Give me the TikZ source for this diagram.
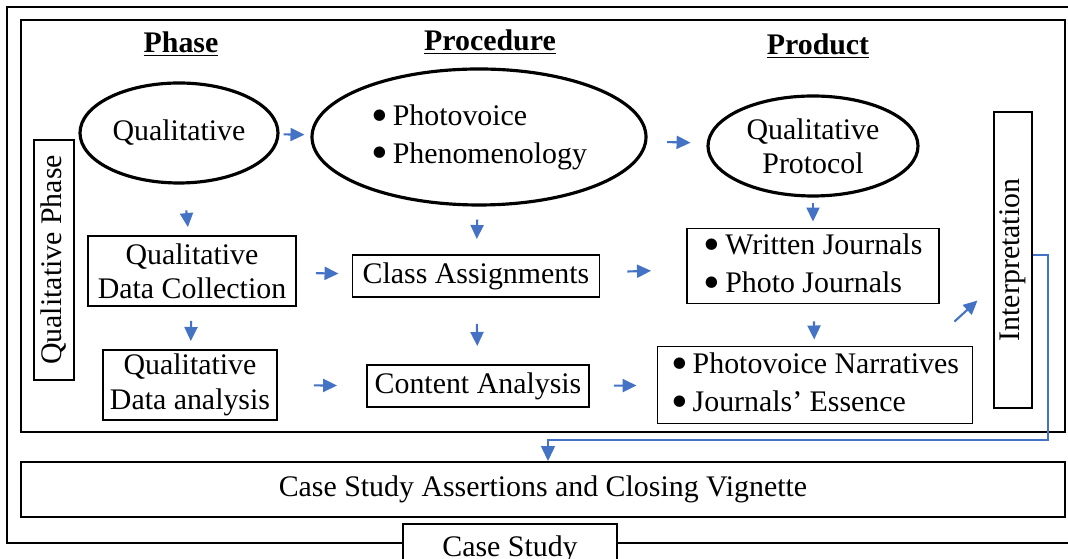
\documentclass[tikz,border=0pt]{standalone}
\usepackage{fontspec}
\setmainfont{Liberation Serif}
\usepackage{graphicx}
\usepackage{tikz}
\usetikzlibrary{arrows.meta,calc,shapes.geometric}
\definecolor{ArrowBlue}{RGB}{68,114,196}
\newcommand{\bul}{\raisebox{-0.2em}{\scalebox{1.6}{\textbullet}}\,}

\begin{document}
\begin{tikzpicture}[>=Latex,
  font=\fontsize{17}{19.5}\selectfont,
  oval/.style={ellipse,draw,line width=1.8pt,inner sep=0pt,align=center},
  box/.style={rectangle,draw,line width=1.1pt,inner sep=0pt,align=center},
  flow/.style={-{Triangle[length=2.8mm,width=2.6mm]},line width=1.2pt,ArrowBlue},
  link/.style={-{Triangle[length=3mm,width=2.8mm]},line width=0.85pt,ArrowBlue}]
  \useasboundingbox (0,0) rectangle (21.36,11.18);
  % frames
  \draw[line width=1.4pt] (0.14,0.32) rectangle (21.6,11.04);
  \draw[line width=1.4pt] (0.42,2.54) rectangle (21.30,10.78);

  % column heads
  \node (hphase) at (3.62,10.30) {\underline{\textbf{Phase}}};
  \node (hproc) at (9.80,10.34) {\underline{\textbf{Procedure}}};
  \node (hprod) at (16.36,10.26) {\underline{\textbf{Product}}};

  % first row
  \node[oval,minimum width=3.96cm,minimum height=2cm] (qual) at (3.58,8.52) {Qualitative};
  \node[oval,minimum width=6.68cm,minimum height=2.72cm,align=left] (proc) at (9.58,8.44)
    {\bul Photovoice\\[2pt]\bul Phenomenology};
  \node[oval,minimum width=4.2cm,minimum height=2cm] (prod) at (16.26,8.26) {Qualitative\\Protocol};

  % second row
  \node[box,minimum width=4.16cm,minimum height=1.4cm] (qdc) at (3.84,5.76) {Qualitative\\Data Collection};
  \node[box,minimum width=4.94cm,minimum height=0.84cm] (ca) at (9.52,5.66) {Class Assignments};
  \node[box,minimum width=5.04cm,minimum height=1.5cm,align=left] (wj) at (16.26,5.86)
    {\bul Written Journals\\[2pt]\bul Photo Journals};

  % third row
  \node[box,minimum width=3.48cm,minimum height=1.4cm] (qda) at (3.80,3.48) {Qualitative\\Data analysis};
  \node[box,minimum width=4.44cm,minimum height=0.84cm] (conta) at (9.56,3.46) {Content Analysis};
  \node[box,minimum width=6.30cm,minimum height=1.54cm,align=left] (pn) at (16.30,3.48)
    {\bul Photovoice Narratives\\[2pt]\bul Journals’ Essence};

  % side boxes
  \node[box,rotate=90,minimum width=4.8cm,minimum height=0.8cm] (qphase) at (1.08,5.98) {Qualitative Phase};
  \node[box,rotate=90,minimum width=5.92cm,minimum height=0.76cm] (interp) at (20.26,5.98) {Interpretation};

  % case study
  \node[box,minimum width=20.88cm,minimum height=1.1cm] (assert) at (10.86,1.39)
    {Case Study Assertions and Closing Vignette};
  \node[box,fill=white,anchor=north,minimum width=4.28cm,minimum height=1.0cm] (cs) at (10.2,0.72) {Case Study};

  % flow arrows
  \draw[flow,shorten <=0.08cm,shorten >=0.12cm] (qual) -- (proc);
  \draw[flow,shorten <=0.40cm,shorten >=0.32cm] (proc) -- (prod);
  \draw[flow,shorten <=0.38cm,shorten >=0.26cm] (qdc) -- (ca);
  \draw[flow,shorten <=0.54cm,shorten >=0.70cm] (ca) -- (wj);
  \draw[flow,shorten <=0.72cm,shorten >=0.58cm] (qda) -- (conta);
  \draw[flow,shorten <=0.48cm,shorten >=0.40cm] (conta) -- (pn);
  \draw[flow,shorten <=0.52cm,shorten >=0.16cm] (qual) -- (qdc);
  \draw[flow,shorten <=0.26cm,shorten >=0.30cm] (proc) -- (ca);
  \draw[flow,shorten <=0.10cm,shorten >=0.12cm] (prod) -- (wj);
  \draw[flow,shorten <=0.28cm,shorten >=0.16cm] (qdc) -- (qda);
  \draw[flow,shorten <=0.52cm,shorten >=0.36cm] (ca) -- (conta);
  \draw[flow,shorten <=0.34cm,shorten >=0.12cm] (wj) -- (pn);
  \draw[flow] ($(pn.north east)+(-0.38,0.48)$) -- ++(0.46,0.42);

  % back to the assertions
  \coordinate (turn) at (10.96,2.38);
  \draw[link] ([yshift=1mm]interp.south) -- ++(0.30,0) |- (turn) -- (turn |- assert.north);
\end{tikzpicture}
\end{document}
